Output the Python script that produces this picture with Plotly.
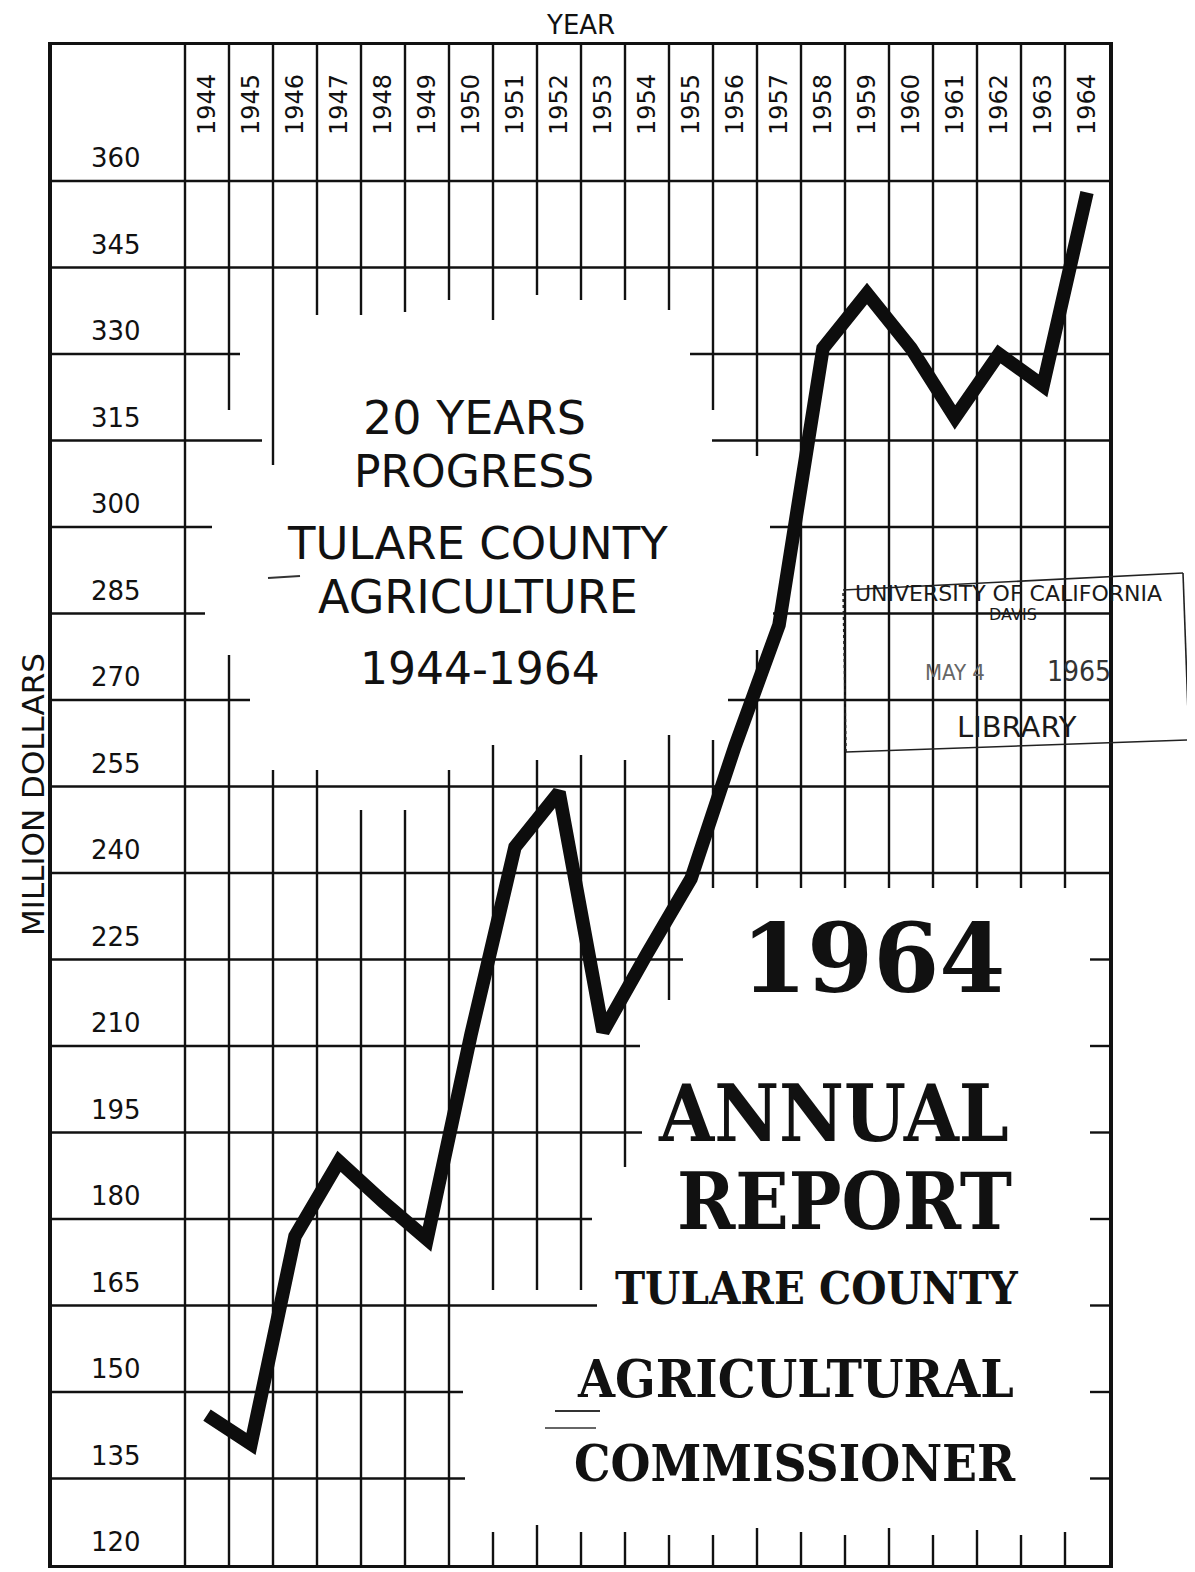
import plotly.graph_objects as go

# ---------------- data ----------------
years = list(range(1944, 1965))
values = [146, 141, 177, 190, 183, 176.5, 212, 244.5, 254, 212.5, 226,
          239, 262, 283, 331, 340.5, 331, 319, 330, 324.5, 358]
y_ticks = list(range(120, 361, 15))
year_labels = [str(y) for y in years]

# ---------------- geometry helpers (reference pixel -> data / paper) ----------------
OFF = 8                      # default page margin of the html body
W, H = 1195 - OFF, 1572 - OFF
L, R, T, B = 52, 1109, 45, 1565          # plot area in reference pixels
X0, X_PX0, XSTEP = 1943.5, 185, 44.0
YSTEP = (1565 - 181) / 16.0
xmin = X0 - (X_PX0 - L) / XSTEP
xmax = X0 + (R - X_PX0) / XSTEP
ymin = 120
ymax = 120 + (B - T) / YSTEP * 15


def dx(px):
    return X0 + (px - X_PX0) / XSTEP


def dy(py):
    return 120 + (B - py) / YSTEP * 15


def px_(px):
    return (px - L) / (R - L)


def py_(py):
    return (B - py) / (B - T)


INK = "#111111"

# grid: vertical column dividers (segments given as reference pixel y extents)
v_segments = [
    [(45, 1565)],
    [(45, 410), (655, 1565)],
    [(45, 465), (770, 1565)],
    [(45, 315), (770, 1565)],
    [(45, 315), (810, 1565)],
    [(45, 312), (810, 1565)],
    [(45, 300), (770, 1565)],
    [(45, 320), (745, 1290), (1532, 1565)],
    [(45, 295), (760, 1290), (1525, 1565)],
    [(45, 300), (755, 1290), (1532, 1565)],
    [(45, 300), (760, 1167), (1532, 1565)],
    [(45, 310), (735, 1000), (1535, 1565)],
    [(45, 410), (740, 888), (1535, 1565)],
    [(45, 456), (650, 888), (1528, 1565)],
    [(45, 888), (1532, 1565)],
    [(45, 888), (1535, 1565)],
    [(45, 888), (1528, 1565)],
    [(45, 888), (1535, 1565)],
    [(45, 888), (1530, 1565)],
    [(45, 888), (1535, 1565)],
    [(45, 888), (1532, 1565)],
]
# grid: horizontal value lines (segments as reference pixel x extents)
h_segments = {
    135: [(52, 465), (1090, 1109)],
    150: [(52, 463), (1090, 1109)],
    165: [(52, 597), (1090, 1109)],
    180: [(52, 592), (1090, 1109)],
    195: [(52, 642), (1090, 1109)],
    210: [(52, 640), (1090, 1109)],
    225: [(52, 683), (1090, 1109)],
    240: [(52, 1109)],
    255: [(52, 1109)],
    270: [(52, 250), (728, 1109)],
    285: [(52, 205), (773, 1109)],
    300: [(52, 212), (770, 1109)],
    315: [(52, 262), (712, 1109)],
    330: [(52, 240), (690, 1109)],
    345: [(52, 1109)],
    360: [(52, 1109)],
}

gx, gy = [], []
for i, segs in enumerate(v_segments):
    b = X0 + i
    for (a, c) in segs:
        gx += [b, b, None]
        gy += [dy(a), dy(c), None]
for v in y_ticks:
    for (a, c) in h_segments.get(v, []):
        gx += [dx(a), dx(c), None]
        gy += [v, v, None]

fig = go.Figure()
fig.add_trace(go.Scatter(x=gx, y=gy, mode="lines", line=dict(color=INK, width=2.4),
                         hoverinfo="skip", showlegend=False, connectgaps=False))
fig.add_trace(go.Scatter(x=years, y=values, mode="lines", line=dict(color="#0d0d0d", width=13.5),
                         hoverinfo="skip", showlegend=False))

ann = []
# y tick labels (sit in the band just above their line)
for v in y_ticks:
    ann.append(dict(x=dx(116), y=v, xref="x", yref="y", text=str(v), showarrow=False,
                    yshift=23, xanchor="center", yanchor="middle",
                    font=dict(family="DejaVu Sans", size=26, color=INK)))
# year labels, rotated
for yr, lab in zip(years, year_labels):
    ann.append(dict(x=yr, y=dy(105), xref="x", yref="y", text=lab, showarrow=False,
                    textangle=-90, xanchor="center", yanchor="middle",
                    font=dict(family="DejaVu Sans", size=24, color=INK)))
# axis titles
ann.append(dict(x=px_(580), y=py_(25), xref="paper", yref="paper", text="YEAR", showarrow=False,
                xanchor="center", yanchor="middle", font=dict(family="DejaVu Sans", size=26, color=INK)))
ann.append(dict(x=px_(33), y=py_(795), xref="paper", yref="paper", text="MILLION DOLLARS",
                showarrow=False, textangle=-90, xanchor="center", yanchor="middle",
                font=dict(family="DejaVu Sans", size=31, color=INK)))

# upper title block
upper = [("20 YEARS", 474, 418, 46), ("PROGRESS", 474, 471, 44), ("TULARE COUNTY", 477, 543, 45),
         ("AGRICULTURE", 478, 597, 46), ("1944-1964", 480, 668, 44)]
for txt, x, y, s in upper:
    ann.append(dict(x=px_(x), y=py_(y), xref="paper", yref="paper", text=txt, showarrow=False,
                    xanchor="center", yanchor="middle",
                    font=dict(family="DejaVu Sans", size=s, color=INK)))

# lower title block
ann.append(dict(x=px_(873), y=py_(958), xref="paper", yref="paper", text="1964", showarrow=False,
                xanchor="center", yanchor="middle",
                font=dict(family="DejaVu Serif", size=95, color=INK, weight="bold")))
lower = [("ANNUAL", 833, 1113, 79), ("REPORT", 844, 1201, 78), ("TULARE COUNTY", 817, 1288, 45),
         ("AGRICULTURAL", 795, 1378, 53), ("COMMISSIONER", 795, 1463, 51)]
for txt, x, y, s in lower:
    ann.append(dict(x=px_(x), y=py_(y), xref="paper", yref="paper", text=txt, showarrow=False,
                    xanchor="center", yanchor="middle",
                    font=dict(family="DejaVu Serif Condensed", size=s, color=INK, weight="bold")))

# library stamp
stamp = [("UNIVERSITY OF CALIFORNIA", 1008, 593, 22, "DejaVu Sans", "#1a1a1a"),
         ("DAVIS", 1013, 614, 16, "DejaVu Sans", "#1a1a1a"),
         ("MAY 4", 955, 672, 22, "DejaVu Sans Condensed", "#666666"),
         ("1965", 1079, 671, 28, "DejaVu Sans Condensed", "#333333"),
         ("LIBRARY", 1017, 727, 29, "DejaVu Sans", "#1a1a1a")]
for txt, x, y, s, fam, col in stamp:
    ann.append(dict(x=px_(x), y=py_(y), xref="paper", yref="paper", text=txt, showarrow=False,
                    xanchor="center", yanchor="middle", font=dict(family=fam, size=s, color=col)))

shapes = []
stamp_pts = [(843, 590), (1183, 573), (1189, 740), (846, 752)]
for (a, b), dash in zip(zip(stamp_pts, stamp_pts[1:] + stamp_pts[:1]),
                        ["solid", "solid", "solid", "dot"]):
    shapes.append(dict(type="line", xref="paper", yref="paper",
                       x0=px_(a[0]), y0=py_(a[1]), x1=px_(b[0]), y1=py_(b[1]),
                       line=dict(color="#222222", width=1.6, dash=dash)))
# small printer's dashes
for (x0, y0, x1, y1, w) in [(268, 578, 300, 576, 2), (555, 1411, 600, 1411, 2.2), (545, 1428, 596, 1428, 1.5)]:
    shapes.append(dict(type="line", xref="paper", yref="paper",
                       x0=px_(x0), y0=py_(y0), x1=px_(x1), y1=py_(y1),
                       line=dict(color="#333333", width=w)))

fig.update_layout(
    width=W, height=H,
    margin=dict(l=L - OFF, r=W - (R - OFF), t=T - OFF, b=H - (B - OFF)),
    paper_bgcolor="white", plot_bgcolor="white",
    showlegend=False,
    annotations=ann, shapes=shapes,
    xaxis=dict(range=[xmin, xmax], showgrid=False, zeroline=False, showticklabels=False,
               ticks="", showline=True, mirror=True, linecolor=INK, linewidth=3, fixedrange=True),
    yaxis=dict(range=[ymin, ymax], showgrid=False, zeroline=False, showticklabels=False,
               ticks="", showline=True, mirror=True, linecolor=INK, linewidth=3.5, fixedrange=True),
)

fig.write_html("out.html")
